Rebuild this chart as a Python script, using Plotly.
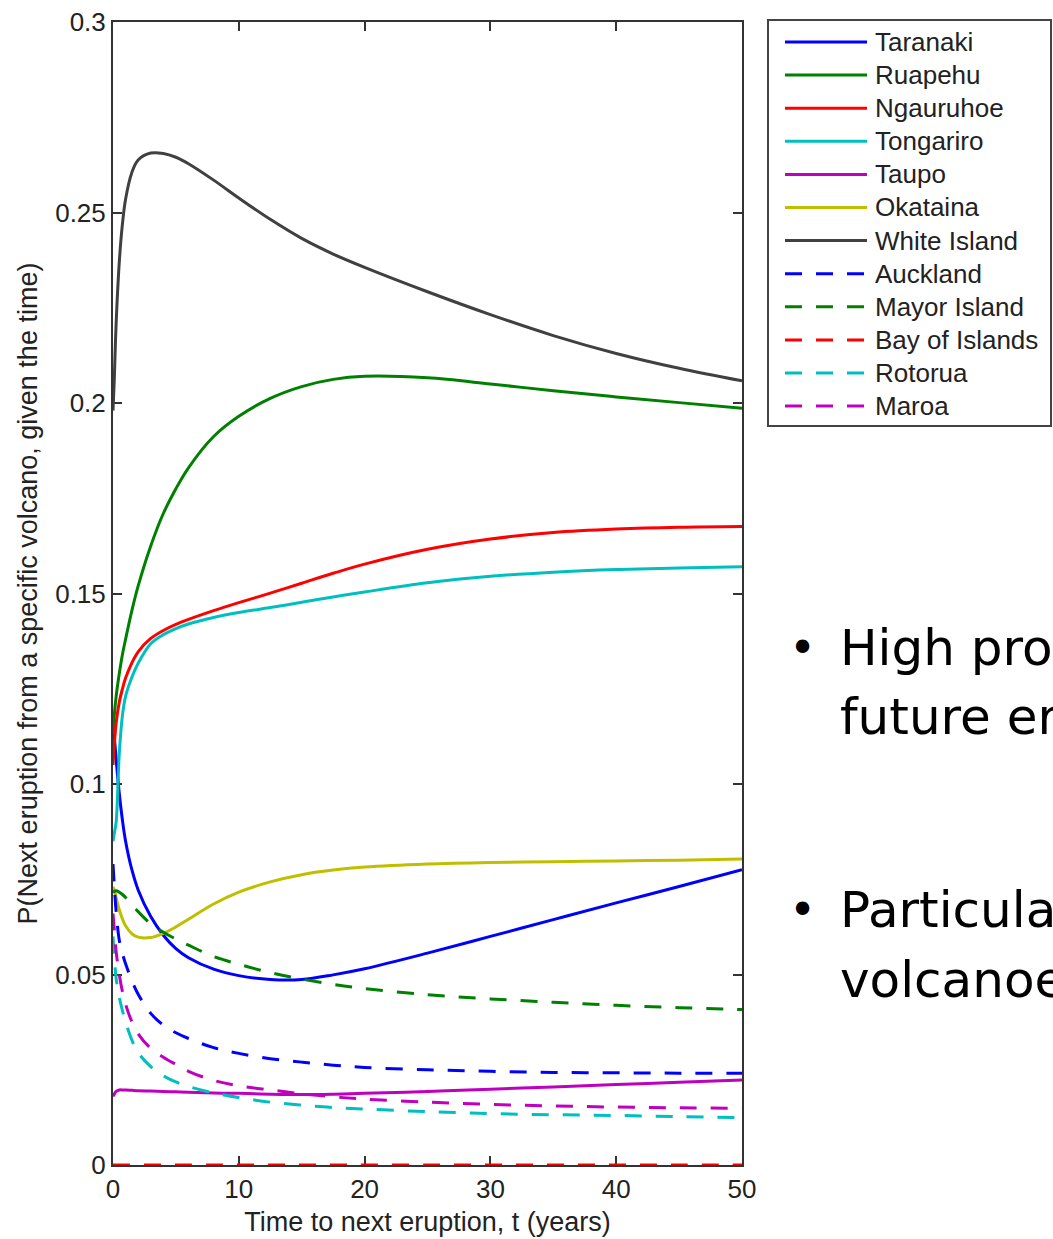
import plotly.graph_objects as go

# Time to next eruption (years)
t_years = [0, 0.1, 0.25, 0.5, 0.75, 1, 1.5, 2, 3, 4, 5, 6, 8, 10,
           12.5, 15, 17.5, 20, 25, 30, 35, 40, 45, 50]

# P(next eruption from a specific volcano, given the time)
taranaki = [0.117, 0.1125, 0.1065, 0.0975, 0.0905, 0.0850, 0.0775, 0.0722, 0.0652, 0.0603,
            0.0568, 0.0544, 0.0514, 0.0497, 0.0487, 0.0487, 0.0499, 0.0515, 0.0556, 0.0600,
            0.0644, 0.0688, 0.0731, 0.0775]
ruapehu = [0.113, 0.118, 0.123, 0.129, 0.134, 0.138, 0.1455, 0.152, 0.1625, 0.1710,
           0.1775, 0.1830, 0.1912, 0.1965, 0.2012, 0.2043, 0.2062, 0.2070, 0.2066, 0.2050,
           0.2032, 0.2016, 0.2001, 0.1986]
ngauruhoe = [0.105, 0.110, 0.116, 0.1215, 0.1250, 0.1278, 0.1318, 0.1347, 0.1382, 0.1403,
             0.1419, 0.1432, 0.1455, 0.1476, 0.1501, 0.1527, 0.1553, 0.1577, 0.1616, 0.1643,
             0.1660, 0.1669, 0.1674, 0.1676]
tongariro = [0.085, 0.087, 0.090, 0.108, 0.118, 0.1230, 0.1280, 0.1317, 0.1368, 0.1392,
             0.1408, 0.1420, 0.1437, 0.1450, 0.1463, 0.1477, 0.1491, 0.1504, 0.1528, 0.1545,
             0.1556, 0.1563, 0.1567, 0.1570]
taupo = [0.0180, 0.0186, 0.0193, 0.0197, 0.0197, 0.0197, 0.0196, 0.0195, 0.0194, 0.0193,
         0.0192, 0.0191, 0.0189, 0.0188, 0.0186, 0.0185, 0.0186, 0.0188, 0.0193, 0.0199,
         0.0205, 0.0211, 0.0217, 0.0223]
okataina = [0.0730, 0.0722, 0.0702, 0.0670, 0.0646, 0.0628, 0.0607, 0.0598, 0.0597, 0.0608,
            0.0625, 0.0645, 0.0685, 0.0716, 0.0743, 0.0762, 0.0774, 0.0782, 0.0790, 0.0794,
            0.0796, 0.0798, 0.0800, 0.0803]
white_island = [0.198, 0.206, 0.221, 0.237, 0.247, 0.2535, 0.2605, 0.2638, 0.2656, 0.2655,
                0.2645, 0.2628, 0.2585, 0.2538, 0.2482, 0.2432, 0.2391, 0.2356, 0.2292, 0.2232,
                0.2177, 0.2130, 0.2091, 0.2058]
auckland = [0.079, 0.0735, 0.0665, 0.0590, 0.0555, 0.0528, 0.0484, 0.0448, 0.0398, 0.0367,
            0.0347, 0.0332, 0.0308, 0.0293, 0.0279, 0.0270, 0.0262, 0.0256, 0.0250, 0.0246,
            0.0243, 0.0242, 0.0241, 0.0241]
mayor_island = [0.0715, 0.0718, 0.0720, 0.0716, 0.0710, 0.0702, 0.0684, 0.0665, 0.0633, 0.0611,
                0.0593, 0.0577, 0.0547, 0.0527, 0.0505, 0.0488, 0.0474, 0.0463, 0.0447, 0.0436,
                0.0427, 0.0419, 0.0413, 0.0408]
bay_of_islands = [0.0, 0.0, 0.0, 0.0, 0.0, 0.0, 0.0, 0.0, 0.0, 0.0,
                  0.0, 0.0, 0.0, 0.0, 0.0, 0.0, 0.0, 0.0, 0.0, 0.0,
                  0.0, 0.0, 0.0, 0.0]
rotorua = [0.060, 0.055, 0.049, 0.0440, 0.0405, 0.0376, 0.0328, 0.0295, 0.0258, 0.0234,
           0.0218, 0.0206, 0.0189, 0.0177, 0.0165, 0.0157, 0.0151, 0.0147, 0.0140, 0.0135,
           0.0132, 0.0130, 0.0127, 0.0124]
maroa = [0.066, 0.062, 0.056, 0.0500, 0.0455, 0.0422, 0.0376, 0.0344, 0.0306, 0.0283,
         0.0264, 0.0246, 0.0222, 0.0208, 0.0197, 0.0187, 0.0179, 0.0173, 0.0165, 0.0159,
         0.0155, 0.0152, 0.0150, 0.0149]

volcano_names = ["Taranaki", "Ruapehu", "Ngauruhoe", "Tongariro", "Taupo", "Okataina",
                 "White Island", "Auckland", "Mayor Island", "Bay of Islands", "Rotorua", "Maroa"]
volcano_series = [taranaki, ruapehu, ngauruhoe, tongariro, taupo, okataina,
                  white_island, auckland, mayor_island, bay_of_islands, rotorua, maroa]

x_ticks = [0, 10, 20, 30, 40, 50]
y_ticks = [0, 0.05, 0.1, 0.15, 0.2, 0.25, 0.3]
y_tick_labels = ["0", "0.05", "0.1", "0.15", "0.2", "0.25", "0.3"]

colors = ["#0000ff", "#008000", "#ff0000", "#00bfbf", "#bf00bf", "#bfbf00", "#404040",
          "#0000ff", "#008000", "#ff0000", "#00bfbf", "#bf00bf"]
dashes = ["solid"] * 7 + ["17px,14px"] * 5

W, H = 1053, 1239
ML, MR, MT, MB = 113, 311, 22, 74
PW, PH = W - ML - MR, H - MT - MB


def px_x(px):
    return (px - ML) / PW


def px_y(py):
    return (H - MB - py) / PH


fig = go.Figure()
for name, vals, col, dash in zip(volcano_names, volcano_series, colors, dashes):
    fig.add_trace(go.Scatter(
        x=t_years, y=vals, name=name, mode="lines",
        line=dict(color=col, width=3, dash=dash, shape="spline", smoothing=1.0),
        cliponaxis=False, showlegend=False,
    ))

text_font = dict(family="Liberation Sans", color="#222222")

axis_common = dict(
    showline=True, linecolor="#333333", linewidth=2, mirror="ticks",
    ticks="inside", ticklen=9, tickwidth=1.5, tickcolor="#333333",
    showgrid=False, zeroline=False, automargin=False,
    tickfont=dict(size=26, **text_font),
    layer="below traces",
)

fig.update_xaxes(range=[0, 50], tickvals=x_ticks,
                 title=dict(text="Time to next eruption, t (years)",
                            font=dict(size=27, **text_font), standoff=9),
                 **axis_common)
fig.update_yaxes(range=[0, 0.3], tickvals=y_ticks, ticktext=y_tick_labels,
                 title=dict(text="P(Next eruption from a specific volcano, given the time)",
                            font=dict(size=27, **text_font), standoff=10),
                 **axis_common)

fig.update_layout(
    width=W, height=H, autosize=False,
    margin=dict(l=ML, r=MR, t=MT, b=MB, autoexpand=False),
    paper_bgcolor="white", plot_bgcolor="white",
    showlegend=False,
)

# Legend box with line samples and labels
legend_left, legend_right, legend_top, legend_bottom = 768, 1051, 20, 426
fig.add_shape(type="rect", xref="paper", yref="paper",
              x0=px_x(legend_left), x1=px_x(legend_right),
              y0=px_y(legend_bottom), y1=px_y(legend_top),
              line=dict(color="#444444", width=2), fillcolor="white", layer="above")
row0, row_step = 42, 33.1
for i, (name, col, dash) in enumerate(zip(volcano_names, colors, dashes)):
    ry = row0 + i * row_step
    fig.add_shape(type="line", xref="paper", yref="paper",
                  x0=px_x(785), x1=px_x(867), y0=px_y(ry), y1=px_y(ry),
                  line=dict(color=col, width=3, dash=dash), layer="above")
    fig.add_annotation(xref="paper", yref="paper", x=px_x(873), y=px_y(ry),
                       text=name, showarrow=False, xanchor="left", yanchor="middle",
                       font=dict(size=26, **text_font))

# Bullet points beside the chart
bullet_lines = [
    ("•", "High probability of a", 648),
    ("", "future eruption from White Island", 717),
    ("•", "Particularly for the andesitic", 910),
    ("", "volcanoes of the North Island", 980),
]
for bullet, text, ypix in bullet_lines:
    if bullet:
        fig.add_annotation(xref="paper", yref="paper", x=px_x(802), y=px_y(ypix),
                           text=bullet, showarrow=False, xanchor="center", yanchor="middle",
                           font=dict(family="DejaVu Sans", size=46, color="#000000"))
    fig.add_annotation(xref="paper", yref="paper", x=px_x(838), y=px_y(ypix),
                       text=text, showarrow=False, xanchor="left", yanchor="middle",
                       font=dict(family="DejaVu Sans", size=50, color="#000000"))

fig.write_html("out.html")
